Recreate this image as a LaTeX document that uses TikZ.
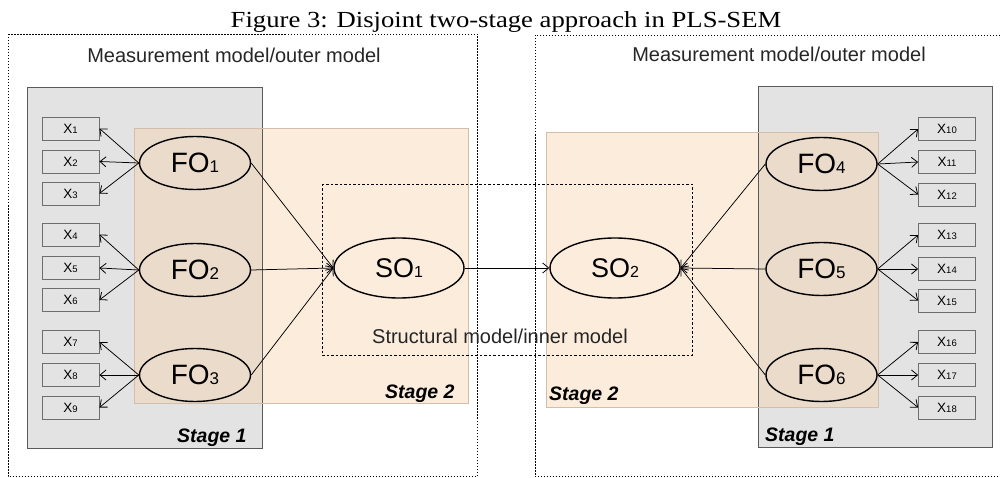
\documentclass[tikz,border=0pt]{standalone}
\usepackage{fontspec}
\setmainfont{Liberation Sans}
\newfontfamily\titlefont{Liberation Serif}
\usetikzlibrary{arrows.meta,shapes.geometric}
\definecolor{greyfill}{HTML}{E3E3E3}
\definecolor{greyline}{HTML}{5A5A5A}
\definecolor{peach}{HTML}{F5CFA8}
\definecolor{peachline}{HTML}{D2BEAA}
\definecolor{boxline}{HTML}{6E6E6E}
\newcommand\folab[2]{{\fontsize{28}{30}\selectfont #1{\fontsize{17}{18}\selectfont #2}}}
\newcommand\solab[2]{{\fontsize{27}{30}\selectfont #1{\fontsize{16}{18}\selectfont #2}}}
\newcommand\xlab[1]{{\fontsize{13.5}{14}\selectfont X{\fontsize{9.5}{10}\selectfont #1}}}
\begin{document}
\begin{tikzpicture}[x=1pt,y=-1pt,
  ind/.style={draw=boxline,fill=greyfill,minimum width=57pt,minimum height=23pt,inner sep=0pt,line width=0.8pt},
  lat/.style={ellipse,draw=black,line width=1.4pt,minimum width=111pt,minimum height=53pt,inner sep=0pt},
  slat/.style={lat,minimum width=130pt,minimum height=60pt},
  arr/.style={-{Straight Barb[length=6pt,width=10pt,line width=0.8pt]},line width=0.75pt,draw=black},
  stagebox/.style={line width=0.9pt},
  outerbox/.style={dash pattern=on 1.5pt off 1.5pt,line width=0.9pt},
  innerbox/.style={dash pattern=on 2.5pt off 2pt,line width=0.9pt},
  lbl/.style={font=\fontsize{20}{22}\selectfont,text=black!85,inner sep=0pt},
  stagelbl/.style={font=\fontsize{19.5}{22}\selectfont\bfseries\itshape,inner sep=0pt,anchor=base west}]
\useasboundingbox (0,0) rectangle (1000,478);
% stage boxes
\fill[greyfill] (27,87) rectangle (262,448);
\fill[greyfill] (758,86) rectangle (992,447);
\fill[peach,fill opacity=0.4] (134,128) rectangle (468,403);
\fill[peach,fill opacity=0.4] (546,132) rectangle (878,407);
\draw[stagebox,draw=greyline] (27,87) rectangle (262,448);
\draw[stagebox,draw=greyline] (758,86) rectangle (992,447);
\draw[stagebox,draw=peachline] (134,128) rectangle (468,403);
\draw[stagebox,draw=peachline] (546,132) rectangle (878,407);
% dotted frames
\draw[outerbox] (8,34) rectangle (477,476.5);
\draw[outerbox] (1000,35) -- (535,35) -- (535,476.5) -- (1000,476.5);
\draw[innerbox] (322,184) rectangle (692,355);
% title and labels
\node[inner sep=0pt,anchor=base] (title) at (506,28) {\scalebox{1.16}[1]{\titlefont\fontsize{23}{26}\selectfont Figure 3: Disjoint two-stage approach in PLS-SEM}};
\node[lbl,anchor=base] (mleft) at (234,63) {Measurement model/outer model};
\node[lbl,anchor=base] (mright) at (779,62) {Measurement model/outer model};
\node[lbl,anchor=base] (struct) at (500,343) {Structural model/inner model};
\node[stagelbl] (s2l) at (385,398) {Stage 2};
\node[stagelbl] (s1l) at (177,442) {Stage 1};
\node[stagelbl] (s2r) at (549,400) {Stage 2};
\node[stagelbl] (s1r) at (765,441) {Stage 1};
% indicators left
\node[ind] (x1) at (70.5,128.5) {\xlab{1}};
\node[ind] (x2) at (70.5,161.5) {\xlab{2}};
\node[ind] (x3) at (70.5,193.5) {\xlab{3}};
\node[ind] (x4) at (70.5,234.5) {\xlab{4}};
\node[ind] (x5) at (70.5,268) {\xlab{5}};
\node[ind] (x6) at (70.5,300) {\xlab{6}};
\node[ind] (x7) at (70.5,342) {\xlab{7}};
\node[ind] (x8) at (70.5,375) {\xlab{8}};
\node[ind] (x9) at (70.5,407.5) {\xlab{9}};
% indicators right
\node[ind] (x10) at (947,129) {\xlab{10}};
\node[ind] (x11) at (947,162) {\xlab{11}};
\node[ind] (x12) at (947,194.5) {\xlab{12}};
\node[ind] (x13) at (947,235) {\xlab{13}};
\node[ind] (x14) at (947,269) {\xlab{14}};
\node[ind] (x15) at (947,300.5) {\xlab{15}};
\node[ind] (x16) at (947,342) {\xlab{16}};
\node[ind] (x17) at (947,375) {\xlab{17}};
\node[ind] (x18) at (947,407.5) {\xlab{18}};
% latent variables
\node[lat] (fo1) at (195,163) {\folab{FO}{1}};
\node[lat] (fo2) at (195,270) {\folab{FO}{2}};
\node[lat] (fo3) at (195,375) {\folab{FO}{3}};
\node[lat] (fo4) at (821.5,164) {\folab{FO}{4}};
\node[lat] (fo5) at (821.5,269) {\folab{FO}{5}};
\node[lat] (fo6) at (821.5,375) {\folab{FO}{6}};
\node[slat] (so1) at (399,268) {\solab{SO}{1}};
\node[slat] (so2) at (615,268) {\solab{SO}{2}};
% outer loadings
\foreach \f/\a/\b/\c in {fo1/x1/x2/x3,fo2/x4/x5/x6,fo3/x7/x8/x9}{
  \draw[arr] (\f.west) -- (\a.east);
  \draw[arr] (\f.west) -- (\b.east);
  \draw[arr] (\f.west) -- (\c.east);
}
\foreach \f/\a/\b/\c in {fo4/x10/x11/x12,fo5/x13/x14/x15,fo6/x16/x17/x18}{
  \draw[arr] (\f.east) -- (\a.west);
  \draw[arr] (\f.east) -- (\b.west);
  \draw[arr] (\f.east) -- (\c.west);
}
% structural paths
\draw[arr] (fo1.east) -- (so1.west);
\draw[arr] (fo2.east) -- (so1.west);
\draw[arr] (fo3.east) -- (so1.west);
\draw[arr] (so1.east) -- (so2.west);
\draw[arr] (fo4.west) -- (so2.east);
\draw[arr] (fo5.west) -- (so2.east);
\draw[arr] (fo6.west) -- (so2.east);
\end{tikzpicture}
\end{document}
